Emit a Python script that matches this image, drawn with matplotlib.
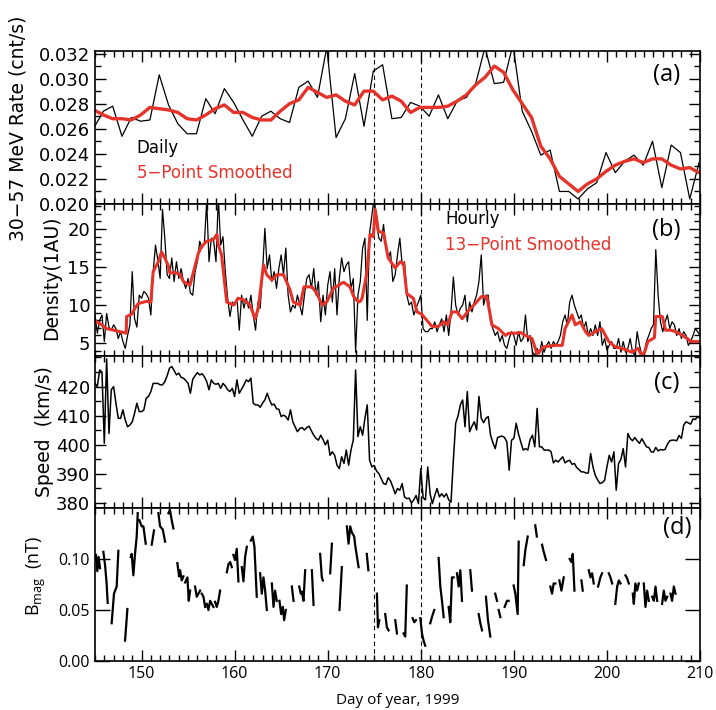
import numpy as np
import matplotlib
matplotlib.use('Agg')
import matplotlib.pyplot as plt
from matplotlib.ticker import MultipleLocator

# (a) daily 30-57 MeV rate and 5-point smoothed
rate_day = [144.9, 145.9, 146.9, 147.9, 148.9, 149.9, 150.9, 151.9, 152.9, 153.9,
            154.9, 155.9, 156.9, 157.9, 158.9, 159.9, 160.9, 161.9, 162.9, 163.9,
            164.9, 165.9, 166.9, 167.9, 168.9, 169.9, 170.9, 171.9, 172.9, 173.9,
            174.9, 175.9, 176.9, 177.9, 178.9, 179.9, 180.9, 181.9, 182.9, 183.9,
            184.9, 185.9, 186.9, 187.9, 188.9, 189.9, 190.9, 191.9, 192.9, 193.9,
            194.9, 195.9, 196.9, 197.9, 198.9, 199.9, 200.9, 201.9, 202.9, 203.9,
            204.9, 205.9, 206.9, 207.9, 208.9, 209.9]
rate_daily = [0.0261, 0.0274, 0.0278, 0.0254, 0.0269, 0.0266, 0.0267, 0.0303, 0.0279, 0.0264,
              0.0256, 0.0256, 0.0284, 0.0272, 0.0292, 0.0281, 0.0267, 0.0254, 0.0270, 0.0274,
              0.0268, 0.0265, 0.0293, 0.0298, 0.0285, 0.0325, 0.0253, 0.0268, 0.0304, 0.0262,
              0.0306, 0.0311, 0.0268, 0.0269, 0.0281, 0.0278, 0.0270, 0.0287, 0.0268, 0.0282,
              0.0285, 0.0296, 0.0325, 0.0296, 0.0297, 0.0327, 0.0274, 0.0258, 0.0239, 0.0243,
              0.0210, 0.0210, 0.0204, 0.0212, 0.0217, 0.0241, 0.0225, 0.0234, 0.0239, 0.0231,
              0.0250, 0.0213, 0.0247, 0.0241, 0.0204, 0.0233]
rate_smooth = [0.0275, 0.0271, 0.0268, 0.0268, 0.0267, 0.0271, 0.0277, 0.0276, 0.0275, 0.0273,
               0.0268, 0.0267, 0.0271, 0.0276, 0.0279, 0.0273, 0.0273, 0.0269, 0.0267, 0.0267,
               0.0274, 0.0280, 0.0283, 0.0293, 0.0289, 0.0285, 0.0287, 0.0282, 0.0279, 0.0290,
               0.0290, 0.0283, 0.0286, 0.0282, 0.0273, 0.0277, 0.0277, 0.0277, 0.0278, 0.0282,
               0.0287, 0.0295, 0.0301, 0.0310, 0.0305, 0.0291, 0.0280, 0.0269, 0.0246, 0.0236,
               0.0222, 0.0216, 0.0210, 0.0216, 0.0220, 0.0226, 0.0231, 0.0234, 0.0236, 0.0233,
               0.0236, 0.0236, 0.0231, 0.0228, 0.0229, 0.0225]

# (b), (c): samples every 6 h from day 145 to 210
hour_day = np.linspace(145, 210, 261)
density = [8.7, 6.3, 8.0, 8.7, 5.2, 8.9, 7.1, 6.7, 7.4, 6.9,
           5.6, 6.5, 5.2, 4.3, 6.0, 7.4, 14.4, 8.2, 7.1, 11.3,
           10.9, 11.8, 11.5, 10.9, 8.7, 14.4, 17.9, 15.9, 13.5, 22.6,
           18.8, 14.0, 13.5, 16.2, 13.1, 15.7, 13.5, 14.8, 13.1, 12.2,
           13.5, 11.6, 11.3, 14.4, 15.7, 18.4, 17.5, 18.1, 23.7, 15.7,
           18.8, 18.4, 15.7, 24.2, 17.9, 19.0, 14.4, 10.9, 8.5, 10.4,
           10.0, 10.9, 6.7, 11.3, 9.6, 10.9, 9.6, 11.3, 8.7, 6.7,
           10.4, 9.6, 14.4, 20.1, 14.8, 16.6, 13.1, 14.4, 12.2, 14.8,
           16.6, 14.0, 17.5, 11.3, 9.1, 10.0, 9.6, 11.3, 10.0, 8.7,
           11.3, 13.5, 14.0, 12.2, 14.8, 11.3, 13.1, 7.8, 11.3, 8.7,
           12.6, 14.4, 10.4, 14.8, 8.7, 13.5, 16.2, 14.4, 15.3, 15.7,
           12.2, 13.5, 3.8, 11.3, 13.1, 17.5, 18.8, 8.0, 19.5, 21.9,
           24.2, 20.6, 18.8, 18.4, 20.6, 17.5, 16.2, 17.0, 13.1, 14.0,
           16.6, 18.8, 15.3, 15.7, 11.3, 10.0, 10.4, 8.7, 9.6, 10.4,
           11.3, 6.9, 6.5, 6.5, 6.9, 6.9, 7.8, 6.5, 7.4, 8.2,
           6.5, 8.7, 6.0, 9.1, 13.7, 10.0, 8.7, 9.6, 10.0, 11.3,
           7.8, 10.4, 9.1, 10.4, 11.3, 13.1, 16.6, 10.0, 11.3, 11.3,
           7.8, 6.9, 6.0, 6.5, 5.2, 6.0, 4.7, 4.3, 5.6, 6.5,
           6.0, 4.7, 6.5, 5.2, 5.6, 8.7, 5.2, 6.0, 3.8, 3.4,
           4.3, 3.6, 5.2, 3.8, 4.7, 5.2, 4.3, 5.2, 4.7, 5.2,
           6.0, 7.8, 8.7, 7.4, 10.4, 11.3, 10.0, 9.1, 8.2, 8.7,
           6.9, 7.8, 6.0, 6.9, 6.0, 7.4, 6.0, 7.8, 4.7, 5.6,
           4.1, 4.7, 5.2, 4.3, 4.3, 5.6, 3.8, 5.2, 3.8, 4.3,
           5.6, 3.8, 3.4, 6.5, 4.7, 3.4, 3.8, 5.2, 6.0, 6.9,
           7.4, 17.3, 11.3, 7.8, 6.5, 7.8, 8.7, 6.9, 7.8, 7.4,
           6.0, 6.9, 5.6, 6.5, 6.0, 4.7, 5.2, 6.0, 6.9, 6.5,
           6.0]

dens_sm_day = [145.0, 145.5, 146.25, 147.0, 148.05, 148.35, 148.4, 148.95, 149.3, 149.65,
               150.55, 151.0, 151.25, 151.8, 152.15, 152.5, 152.9, 153.05, 153.6, 154.15,
               154.5, 155.2, 155.55, 156.1, 156.45, 157.0, 157.7, 158.1, 158.25, 158.6,
               159.15, 159.9, 160.4, 160.95, 161.65, 162.2, 162.55, 163.1, 163.45, 164.0,
               164.55, 165.25, 165.95, 166.3, 167.05, 167.45, 168.3, 168.85, 169.4, 169.9,
               170.6, 171.7, 172.4, 172.8, 173.3, 173.5, 173.7, 174.2, 174.55, 174.9,
               175.1, 175.45, 176.0, 176.5, 176.9, 177.25, 177.8, 178.15, 178.5, 179.2,
               179.6, 180.1, 180.65, 181.2, 181.9, 182.45, 182.9, 183.35, 183.9, 184.45,
               185.15, 185.7, 186.5, 187.1, 187.65, 188.35, 189.1, 189.45, 190.2, 190.7,
               191.25, 191.95, 192.5, 193.2, 193.75, 194.45, 195.2, 195.5, 196.25, 196.6,
               197.15, 197.7, 198.05, 198.75, 199.45, 200.2, 200.9, 201.6, 202.1, 202.65,
               203.35, 203.7, 204.05, 204.4, 205.1, 205.25, 205.95, 206.3, 206.85, 207.4,
               208.1, 208.65, 209.0, 209.75]
dens_smooth = [7.9, 7.6, 6.9, 6.7, 6.4, 6.3, 8.5, 8.8, 9.6, 10.2,
               10.5, 10.4, 14.4, 15.7, 17.0, 16.2, 15.1, 14.2, 14.3, 14.0,
               13.1, 12.6, 14.2, 16.8, 17.7, 18.4, 18.6, 19.3, 17.9, 16.6,
               10.4, 10.0, 10.9, 10.7, 10.0, 8.2, 9.6, 15.3, 14.0, 13.3,
               14.0, 14.0, 12.0, 10.4, 10.0, 12.4, 12.4, 11.5, 10.0, 10.4,
               12.2, 13.0, 12.4, 11.1, 10.4, 10.5, 10.9, 14.2, 19.3, 19.0,
               22.6, 19.7, 19.5, 16.2, 15.5, 14.9, 15.7, 15.5, 11.5, 10.9,
               9.1, 8.8, 8.0, 7.2, 7.2, 7.8, 7.4, 9.1, 9.1, 8.2,
               9.3, 10.0, 11.1, 11.1, 7.4, 6.9, 6.0, 6.3, 6.3, 6.4,
               6.0, 5.6, 3.6, 4.5, 4.6, 4.7, 4.7, 6.9, 8.7, 7.4,
               7.8, 6.5, 6.0, 6.5, 6.9, 5.2, 4.5, 4.3, 4.1, 3.8,
               4.3, 3.4, 3.8, 5.2, 5.7, 8.5, 8.5, 6.7, 6.7, 6.5,
               6.0, 5.6, 5.2, 5.2]

speed = [421.1, 420.0, 425.7, 425.0, 400.5, 429.5, 403.9, 418.9, 420.0, 414.3,
         409.1, 409.1, 412.0, 408.5, 406.2, 406.8, 407.9, 410.8, 414.3, 411.4,
         411.4, 412.0, 416.0, 416.6, 418.3, 421.1, 421.1, 421.1, 420.6, 420.6,
         421.7, 423.7, 426.3, 426.9, 425.5, 424.0, 424.6, 423.2, 422.9, 422.1,
         421.1, 417.7, 422.5, 423.7, 424.8, 424.0, 424.4, 423.4, 421.7, 418.9,
         422.3, 421.1, 420.8, 421.1, 419.4, 421.1, 420.2, 418.9, 418.3, 419.4,
         416.6, 422.3, 417.7, 419.1, 420.6, 422.3, 421.7, 422.9, 414.3, 413.7,
         413.7, 412.9, 414.3, 415.4, 417.7, 415.4, 413.7, 414.0, 412.4, 412.2,
         409.7, 410.2, 409.7, 408.5, 412.0, 407.9, 406.2, 404.5, 405.6, 405.9,
         405.1, 405.9, 406.4, 404.8, 403.3, 402.2, 401.6, 403.3, 401.8, 400.0,
         401.6, 396.4, 397.6, 396.4, 393.0, 391.8, 395.9, 393.6, 398.2, 393.0,
         398.2, 401.6, 425.7, 402.8, 406.2, 403.3, 409.1, 413.7, 394.7, 392.4,
         392.9, 391.0, 390.1, 388.4, 386.7, 386.4, 388.7, 387.6, 385.5, 383.2,
         385.0, 384.4, 386.7, 382.1, 381.5, 381.7, 380.0, 381.1, 382.6, 379.8,
         391.8, 381.8, 381.1, 392.4, 383.2, 379.8, 382.6, 385.0, 382.1, 383.2,
         382.1, 383.2, 381.1, 380.3, 394.7, 407.4, 409.9, 413.7, 415.4, 406.2,
         418.3, 404.5, 406.4, 407.9, 405.1, 416.6, 409.1, 407.6, 409.1, 409.7,
         403.3, 400.7, 398.7, 402.5, 402.8, 403.0, 402.5, 401.0, 391.3, 401.6,
         402.2, 407.4, 403.7, 401.0, 398.2, 398.7, 398.2, 401.8, 403.3, 399.3,
         412.5, 399.3, 399.3, 398.2, 398.2, 398.2, 397.6, 393.8, 394.7, 394.1,
         395.0, 395.9, 393.8, 394.4, 394.7, 393.3, 393.6, 392.2, 391.5, 390.7,
         390.7, 390.3, 390.3, 397.0, 392.4, 389.5, 388.0, 386.7, 387.0, 387.8,
         392.4, 396.4, 394.1, 397.6, 384.4, 393.6, 395.0, 398.7, 392.4, 403.9,
         402.2, 401.4, 402.5, 401.4, 400.5, 402.1, 400.7, 399.3, 399.1, 397.6,
         397.5, 399.1, 397.9, 398.4, 398.2, 398.4, 400.2, 401.4, 401.6, 401.6,
         401.4, 403.2, 402.2, 406.8, 407.9, 407.5, 407.1, 408.9, 408.7, 409.7,
         409.1]

# (d) field magnitude, data segments separated by gaps (nan)
nan = np.nan
bmag_day = [145.11, 145.25, 145.39, 145.54, nan, 145.9, 146.08, 146.25, 146.36, nan,
            146.79, 147.04, 147.33, 147.51, nan, 148.23, 148.48, nan,
            148.84, 148.94, 149.12, 149.3, 149.48, 149.59, nan, 149.77, 150.02, 150.2, 150.45, nan,
            151.09, 151.34, nan, 151.81, 151.99, 152.28, 152.53, nan,
            152.89, 153.06, 153.24, 153.42, nan,
            153.85, 154.03, 154.14, 154.32, 154.5, nan, 154.68, 154.93, 155.07, 155.22, nan,
            155.75, 155.93, 156.11, 156.29, nan, 156.47, 156.65, 156.83, nan,
            157.01, 157.19, 157.37, 157.72, nan, 157.9, 158.08, 158.26, 158.44, nan,
            159.16, 159.34, 159.52, 159.7, nan, 159.87, 160.05, 160.23, 160.41, nan,
            160.77, 160.95, 161.13, 161.31, nan, 161.74, 161.95, 162.13, 162.38, nan,
            162.74, 162.92, 163.1, 163.28, 163.46, nan, 164.0, 164.18, 164.35, 164.53, nan,
            164.82, 165.0, 165.18, 165.32, 165.5, nan, 166.15, 166.33, nan,
            166.94, 167.11, 167.22, 167.4, 167.58, nan, 168.3, 168.48, nan,
            169.19, 169.37, 169.48, nan, 170.27, 170.45, nan, 171.27, 171.52, nan,
            172.06, 172.24, 172.42, 172.6, 172.85, 172.96, 173.32, nan,
            174.2, 174.37, nan, 175.29, 175.4, 175.54, nan, 176.18, 176.36, 176.54, nan,
            177.26, 177.44, nan, 178.15, 178.33, 178.5, nan, 179.12, 179.3, 179.48, nan,
            179.95, 180.13, 180.3, 180.48, nan, 181.02, 181.2, 181.45, nan,
            181.92, 182.1, 182.28, 182.46, nan, 183.0, 183.17, 183.35, 183.53, nan,
            183.89, 184.07, 184.25, 184.43, nan, 185.32, 185.5, nan,
            186.22, 186.4, 186.58, nan, 187.0, 187.22, 187.47, nan,
            188.0, 188.19, nan, 188.37, 188.55, nan, 189.01, 189.27, 189.44, nan,
            189.98, 190.16, 190.41, 190.52, nan, 191.06, 191.24, 191.49, nan,
            192.3, 192.47, nan, 193.03, 193.21, 193.46, nan,
            193.92, 194.1, 194.28, 194.46, nan, 194.89, 195.11, 195.36, nan,
            196.0, 196.18, 196.33, 196.51, nan, 197.26, 197.4, nan,
            198.05, 198.23, 198.41, 198.58, nan, 199.05, 199.3, 199.48, nan,
            200.2, 200.38, 200.56, nan, 200.9, 201.1, 201.28, 201.46, nan,
            201.99, 202.17, 202.35, nan, 202.78, 202.89, 203.06, 203.24, 203.42, nan,
            203.96, 204.14, 204.32, 204.5, nan, 204.86, 205.04, 205.22, 205.4, nan,
            205.93, 206.11, 206.29, 206.47, nan, 206.83, 207.0, 207.19, 207.37]
bmag = [0.104, 0.088, 0.102, 0.091, nan, 0.107, 0.094, 0.076, 0.057, nan,
        0.037, 0.066, 0.073, 0.108, nan, 0.020, 0.051, nan,
        0.102, 0.105, 0.084, 0.105, 0.122, 0.145, nan, 0.138, 0.132, 0.132, 0.115, nan,
        0.114, 0.128, nan, 0.145, 0.132, 0.129, 0.117, nan,
        0.145, 0.148, 0.138, 0.130, nan,
        0.096, 0.083, 0.089, 0.079, 0.083, nan, 0.077, 0.082, 0.059, 0.069, nan,
        0.073, 0.063, 0.066, 0.069, nan, 0.066, 0.063, 0.053, nan,
        0.056, 0.050, 0.059, 0.053, nan, 0.058, 0.053, 0.059, 0.069, nan,
        0.087, 0.095, 0.097, 0.092, nan, 0.104, 0.099, 0.110, 0.078, nan,
        0.092, 0.078, 0.102, 0.112, nan, 0.118, 0.122, 0.112, 0.063, nan,
        0.086, 0.066, 0.082, 0.069, 0.050, nan, 0.076, 0.053, 0.069, 0.059, nan,
        0.059, 0.046, 0.053, 0.040, 0.050, nan, 0.073, 0.059, nan,
        0.073, 0.066, 0.068, 0.059, 0.089, nan, 0.089, 0.055, nan,
        0.105, 0.082, 0.079, nan, 0.086, 0.115, nan, 0.050, 0.092, nan,
        0.132, 0.115, 0.132, 0.126, 0.122, 0.113, 0.092, nan,
        0.105, 0.089, nan, 0.066, 0.033, 0.040, nan, 0.046, 0.033, 0.030, nan,
        0.040, 0.027, nan, 0.027, 0.024, 0.074, nan, 0.042, 0.038, 0.040, nan,
        0.042, 0.027, 0.020, 0.015, nan, 0.037, 0.043, 0.050, nan,
        0.101, 0.073, 0.059, 0.043, nan, 0.053, 0.038, 0.082, 0.082, nan,
        0.086, 0.073, 0.089, 0.059, nan, 0.089, 0.069, nan,
        0.046, 0.037, 0.030, nan, 0.063, 0.040, 0.024, nan,
        0.066, 0.059, nan, 0.050, 0.043, nan, 0.053, 0.059, 0.059, nan,
        0.074, 0.066, 0.046, 0.117, nan, 0.094, 0.109, 0.122, nan,
        0.133, 0.122, nan, 0.114, 0.107, 0.099, nan,
        0.073, 0.066, 0.076, 0.076, nan, 0.079, 0.069, 0.082, nan,
        0.100, 0.097, 0.105, 0.069, nan, 0.079, 0.069, nan,
        0.089, 0.082, 0.086, 0.076, nan, 0.073, 0.082, 0.086, nan,
        0.086, 0.082, 0.076, nan, 0.056, 0.073, 0.079, 0.076, nan,
        0.084, 0.081, 0.076, nan, 0.066, 0.056, 0.076, 0.069, 0.076, nan,
        0.076, 0.053, 0.069, 0.059, nan, 0.063, 0.059, 0.073, 0.059, nan,
        0.056, 0.069, 0.059, 0.063, nan, 0.066, 0.059, 0.073, 0.066]

event_days = [175, 180]

RED = '#e5332a'
plt.rcParams['font.family'] = ['DejaVu Sans']
LIGHT = ['Open Sans', 'DejaVu Sans']

fig = plt.figure(figsize=(7.16, 7.10), dpi=100)
L, W = 95 / 716, 605 / 716
tops = [51, 204, 356, 508, 661]
axes = []
for i in range(4):
    ax = fig.add_axes([L, 1 - tops[i + 1] / 710, W, (tops[i + 1] - tops[i]) / 710])
    axes.append(ax)
ax_a, ax_b, ax_c, ax_d = axes

for ax in axes:
    ax.set_xlim(145, 210)
    ax.xaxis.set_major_locator(MultipleLocator(10))
    ax.xaxis.set_minor_locator(MultipleLocator(1))
    ax.tick_params(which='both', direction='in', top=True, right=True, width=1.0)
    ax.tick_params(which='major', length=8)
    ax.tick_params(which='minor', length=4)
    for s in ax.spines.values():
        s.set_linewidth(1.2)
    for d in event_days:
        ax.axvline(d, color='k', ls=(0, (4, 3)), lw=0.8)
    if ax is not ax_d:
        ax.tick_params(axis='x', labelbottom=False)
        ax.tick_params(axis='y', labelsize=13)

# (a)
ax_a.plot(rate_day, rate_daily, color='k', lw=0.9)
ax_a.plot(rate_day, rate_smooth, color=RED, lw=2.4)
ax_a.set_ylim(0.020, 0.0322)
ax_a.yaxis.set_major_locator(MultipleLocator(0.002))
ax_a.yaxis.set_minor_locator(MultipleLocator(0.001))
ax_a.yaxis.set_major_formatter(plt.FormatStrFormatter('%.3f'))
ax_a.text(0.069, 0.366, 'Daily', transform=ax_a.transAxes, fontsize=12, va='center')
ax_a.text(0.069, 0.203, '5\u2212Point Smoothed', transform=ax_a.transAxes,
          fontsize=12, va='center', color=RED)

# (b)
ax_b.plot(hour_day, density, color='k', lw=0.9)
ax_b.plot(dens_sm_day, dens_smooth, color=RED, lw=2.2)
ax_b.set_ylim(3.3, 23.3)
ax_b.yaxis.set_major_locator(MultipleLocator(5))
ax_b.yaxis.set_minor_locator(MultipleLocator(1))
ax_b.text(0.579, 0.901, 'Hourly', transform=ax_b.transAxes, fontsize=12, va='center')
ax_b.text(0.579, 0.730, '13\u2212Point Smoothed', transform=ax_b.transAxes,
          fontsize=12, va='center', color=RED)

# (c)
ax_c.plot(hour_day, speed, color='k', lw=1.1)
ax_c.set_ylim(378.3, 430.5)
ax_c.set_yticks([380, 390, 400, 410, 420])
ax_c.yaxis.set_minor_locator(MultipleLocator(5))

# (d)
ax_d.plot(bmag_day, bmag, color='k', lw=1.6)
ax_d.set_ylim(0, 0.15)
ax_d.yaxis.set_minor_locator(plt.NullLocator())
ax_d.set_yticks([0.0, 0.05, 0.10])
ax_d.yaxis.set_major_formatter(plt.FormatStrFormatter('%.2f'))
ax_d.tick_params(axis='y', which='major', length=11)
for lab in ax_d.get_xticklabels() + ax_d.get_yticklabels():
    lab.set_family(LIGHT)
    lab.set_fontsize(11.5)
ax_d.set_xlabel('Day of year, 1999', family=LIGHT, fontsize=11, labelpad=8)

# panel letters
for ax, lab, x, y in [(ax_a, '(a)', 0.945, 0.843), (ax_b, '(b)', 0.945, 0.829),
                      (ax_c, '(c)', 0.945, 0.822), (ax_d, '(d)', 0.962, 0.869)]:
    ax.text(x, y, lab, transform=ax.transAxes, fontsize=17, family=LIGHT,
            ha='center', va='center')

# y labels
fig.text(18 / 716, 1 - 128 / 710, '30\u221257 MeV Rate (cnt/s)', rotation=90,
         ha='center', va='center', fontsize=13.5)
fig.text(52 / 716, 1 - 278 / 710, 'Density(1AU)', rotation=90,
         ha='center', va='center', fontsize=13.5)
fig.text(45 / 716, 1 - 432 / 710, 'Speed  (km/s)', rotation=90,
         ha='center', va='center', fontsize=13.5)
fig.text(36 / 716, 1 - 576 / 710, r'B$_{\mathregular{mag}}$  (nT)', rotation=90,
         ha='center', va='center', fontsize=13, family=LIGHT)

fig.savefig('out.png', dpi=100)
